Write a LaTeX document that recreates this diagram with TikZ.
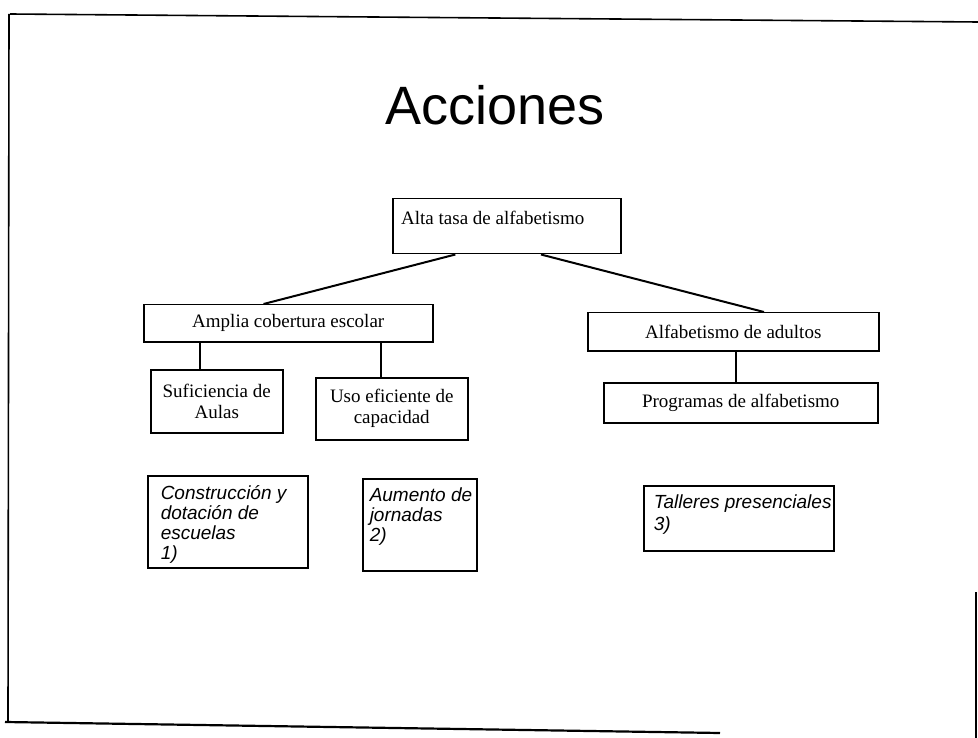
\documentclass[tikz,border=0pt]{standalone}
\usepackage{fontspec}
\setmainfont{Liberation Serif}
\setsansfont{Liberation Sans}
\usetikzlibrary{calc}
\begin{document}
\begin{tikzpicture}[x=1pt,y=-1pt,
  box/.style={draw, line width=1.5pt, inner sep=0pt, anchor=north west},
  serifbox/.style={box, align=center, font=\fontsize{19}{21}\selectfont},
  italbox/.style={box, font=\sffamily\itshape\fontsize{19}{20}\selectfont},
  conn/.style={line width=2pt},
  frameline/.style={line width=1.6pt}
]
\fill[white] (0,0) rectangle (978,738);
\useasboundingbox (0,0) rectangle (978,738);

% frame of the slide
\draw[frameline] (10,14) -- (978,22);
\draw[frameline] (9,14) -- (8,722);
\draw[line width=2.2pt] (5,722) -- (720,733);
\draw[frameline] (976,592) -- (976,738);

\node[anchor=base, font=\sffamily\fontsize{54}{60}\selectfont] (title) at (495,125) {Acciones};

\node[box, minimum width=228, minimum height=55] (top) at (392,198) {};
\node[anchor=base west, inner sep=0pt, font=\fontsize{19}{21}\selectfont] (toptext) at ($(top.north west)+(9,27)$) {Alta tasa de alfabetismo};

\node[serifbox, minimum width=289, minimum height=37] (amp) at (143,304) {Amplia cobertura escolar};
\node[serifbox, minimum width=132, minimum height=63] (suf) at (150,369) {Suficiencia de\\Aulas};
\node[serifbox, minimum width=152, minimum height=62] (uso) at (315,377) {Uso eficiente de\\capacidad};
\node[serifbox, minimum width=291, minimum height=38] (adu) at (587,312) {Alfabetismo de adultos};
\node[serifbox, minimum width=274, minimum height=40] (prog) at (603,382) {Programas de alfabetismo};

\coordinate (t1) at ($(top.south west)!0.276!(top.south east)$);
\coordinate (t2) at ($(top.south west)!0.649!(top.south east)$);
\coordinate (a1) at ($(amp.north west)!0.415!(amp.north east)$);
\coordinate (d1) at ($(adu.north west)!0.605!(adu.north east)$);
\draw[conn] (t1) -- (a1);
\draw[conn] (t2) -- (d1);
\coordinate (a2) at ($(amp.south west)!0.197!(amp.south east)$);
\coordinate (a3) at ($(amp.south west)!0.82!(amp.south east)$);
\coordinate (d2) at ($(adu.south west)!0.509!(adu.south east)$);
\draw[conn] (a2) -- (a2 |- suf.north);
\draw[conn] (a3) -- (a3 |- uso.north);
\draw[conn] (d2) -- (d2 |- prog.north);

\node[italbox] (b1) at (147,475) {\parbox[c][92pt][t]{160pt}{\raggedright\leftskip=13pt\vspace*{10pt}\strut Construcción y\\dotación de\\escuelas\\1)}};
\node[italbox] (b2) at (362,478) {\parbox[c][92pt][t]{114pt}{\raggedright\leftskip=7pt\vspace*{9pt}\strut Aumento de\\jornadas\\2)}};
\node[italbox] (b3) at (643,485) {\parbox[c][65pt][t]{190pt}{\raggedright\leftskip=10pt\fontsize{19}{22}\selectfont\vspace*{7pt}\strut Talleres presenciales\\3)}};
\end{tikzpicture}
\end{document}
